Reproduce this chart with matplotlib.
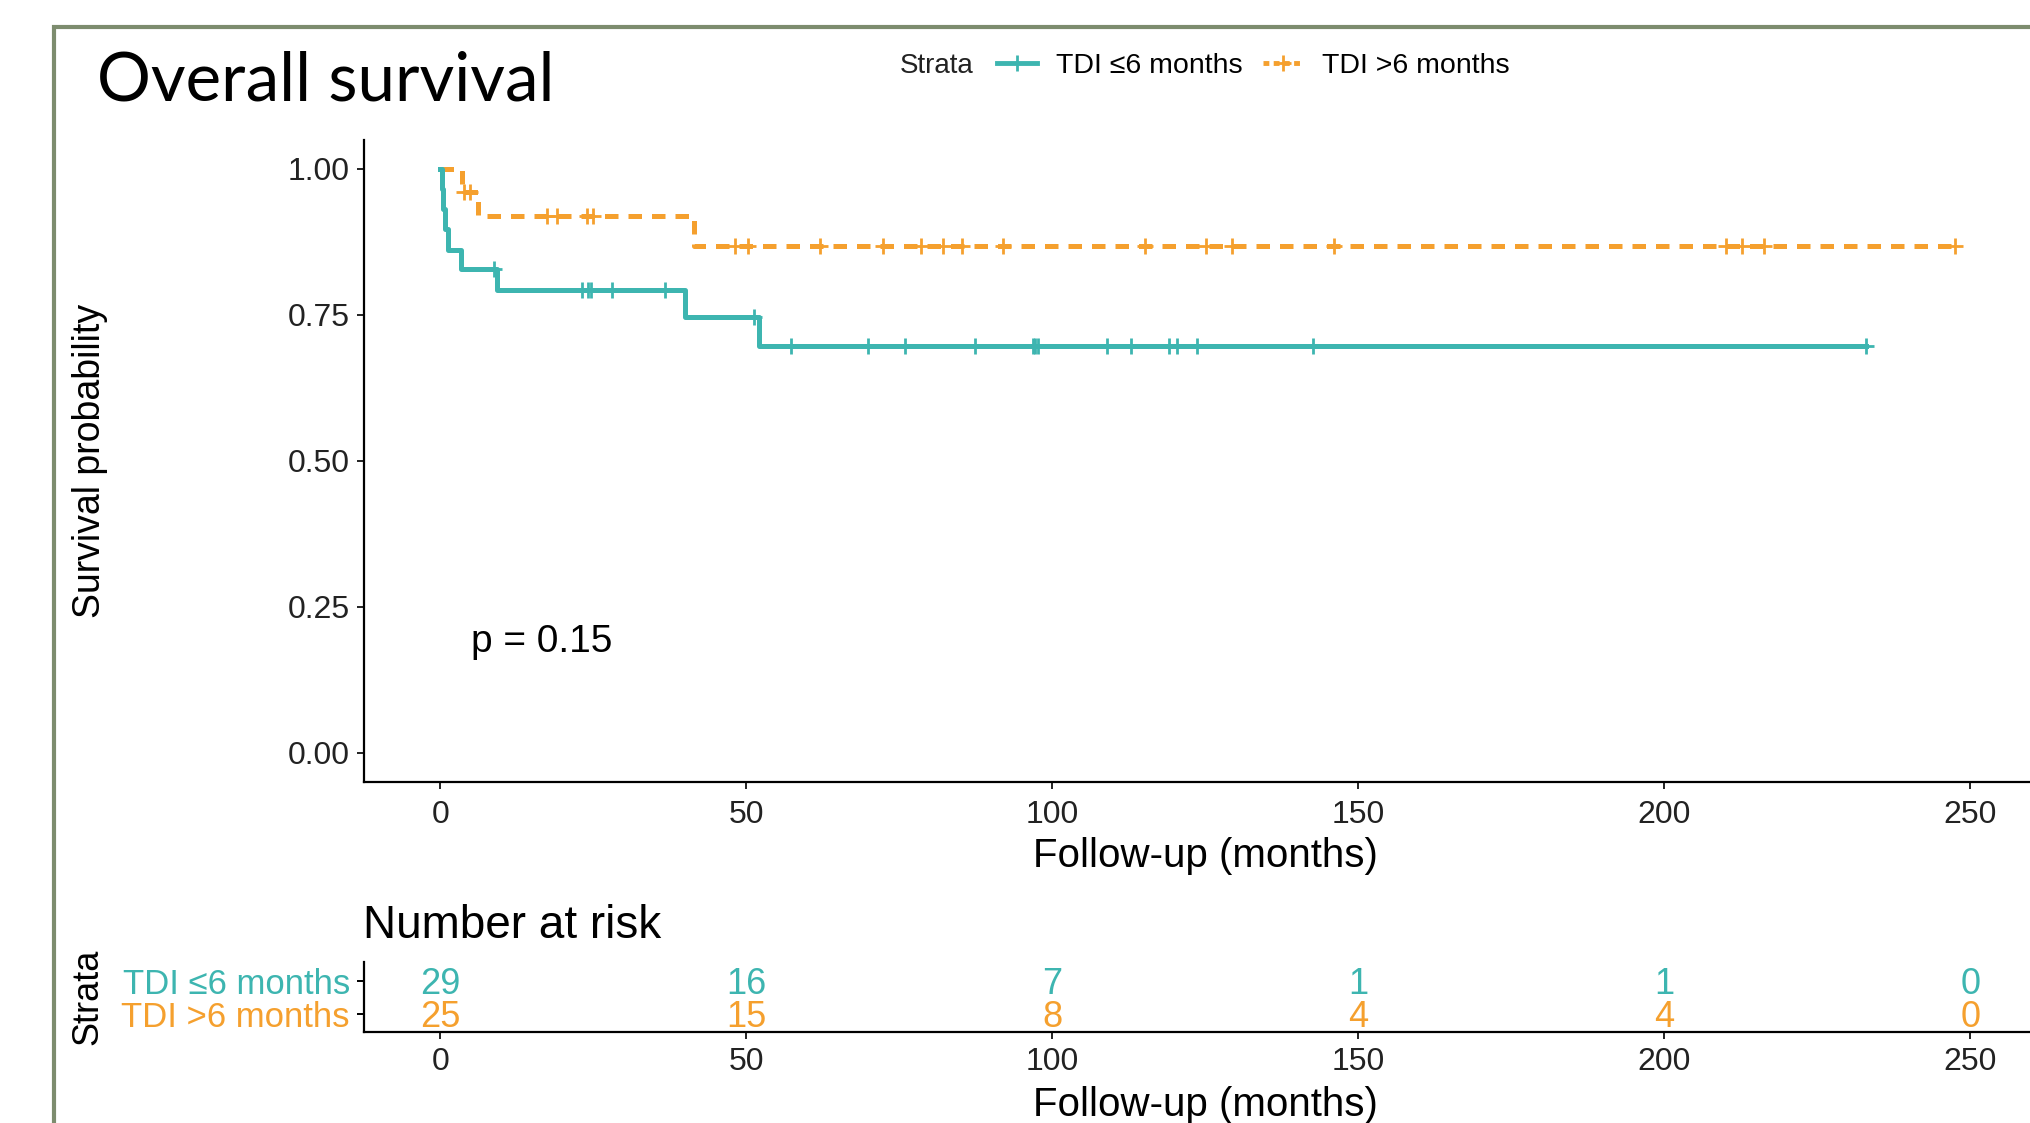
import matplotlib
matplotlib.use('Agg')
import matplotlib.pyplot as plt
from matplotlib.lines import Line2D
from matplotlib.patches import Rectangle
import numpy as np

plt.rcParams['font.family'] = ['Liberation Sans', 'DejaVu Sans']

# Kaplan-Meier steps (time in months, survival)
low_times = [0, 0.3, 0.5, 0.8, 1.3, 3.4, 9.2, 40.0, 52.0]
low_surv = [1.0, 0.966, 0.931, 0.897, 0.862, 0.828, 0.793, 0.746, 0.696]
low_end = 233.0
low_censor = [8.7, 23.1, 24.2, 24.6, 28.0, 36.7, 51.2, 57.3, 69.9, 76.0, 87.4,
              96.8, 97.2, 97.6, 109.0, 112.9, 119.0, 120.4, 123.7, 142.6, 233.0]

high_times = [0, 3.6, 6.2, 41.4]
high_surv = [1.0, 0.96, 0.92, 0.868]
high_end = 247.4
high_censor = [3.9, 4.9, 17.4, 19.0, 23.9, 25.0, 48.2, 50.2, 62.0, 72.3, 78.5,
               82.1, 85.3, 92.0, 115.1, 125.1, 129.3, 146.0, 210.0, 212.6,
               216.3, 247.4]

risk_times = [0, 50, 100, 150, 200, 250]
risk_low = [29, 16, 7, 1, 1, 0]
risk_high = [25, 15, 8, 4, 4, 0]

labels = ['TDI \u22646 months', 'TDI >6 months']
teal = '#3DB5B0'
orange = '#F5A02E'
ink = '#222222'

W, H = 2030, 1123
fig = plt.figure(figsize=(W / 100, H / 100), dpi=100)


def box(left, top, right, bottom):
    return [left / W, 1 - bottom / H, (right - left) / W, (bottom - top) / H]


def step_level(times, surv, t):
    i = np.searchsorted(times, t, side='right') - 1
    return np.array(surv)[i]


# main survival plot
ax = fig.add_axes(box(363.8, 139.8, 2047, 782))
for times, surv, end, cens, col, ls in [
        (high_times, high_surv, high_end, high_censor, orange, (0, (2.7, 2.0))),
        (low_times, low_surv, low_end, low_censor, teal, '-')]:
    ax.step(times + [end], surv + [surv[-1]], where='post', color=col,
            lw=3.6, linestyle=ls)
    ax.plot(cens, step_level(times, surv, cens), linestyle='none', marker='+',
            ms=12, mew=2, color=col)

ax.set_xlim(-12.5, 262.5)
ax.set_ylim(-0.05, 1.05)
ax.set_xticks(risk_times)
ax.set_yticks([0, 0.25, 0.5, 0.75, 1.0])
ax.set_yticklabels(['0.00', '0.25', '0.50', '0.75', '1.00'])
ax.spines[['top', 'right']].set_visible(False)
for s in ['left', 'bottom']:
    ax.spines[s].set_linewidth(1.6)
ax.tick_params(labelsize=23, length=5, width=1.4, pad=5, colors=ink)
ax.tick_params(axis='x', pad=8)
ax.set_xlabel('Follow-up (months)', fontsize=29, va='center')
ax.xaxis.set_label_coords(0.5, -0.115)
ax.text(5, 0.19, 'p = 0.15', fontsize=28, ha='left', va='center')

fig.text(90 / W, 1 - 461 / H, 'Survival probability', rotation=90,
         fontsize=27, ha='center', va='center')

# risk table
rt = fig.add_axes(box(363.8, 962, 2047, 1032))
for row, counts, col in [(2, risk_low, teal), (1, risk_high, orange)]:
    for t, n in zip(risk_times, counts):
        rt.text(t, row, str(n), color=col, fontsize=26, ha='center',
                va='center_baseline')
rt.set_xlim(-12.5, 262.5)
rt.set_ylim(0.455, 2.574)
rt.set_xticks(risk_times)
rt.set_yticks([2, 1])
rt.set_yticklabels(labels, fontsize=25)
for lab, col in zip(rt.get_yticklabels(), [teal, orange]):
    lab.set_color(col)
rt.spines[['top', 'right']].set_visible(False)
for s in ['left', 'bottom']:
    rt.spines[s].set_linewidth(1.6)
rt.tick_params(axis='x', labelsize=23, length=5, width=1.4, pad=6, colors=ink)
rt.tick_params(axis='y', length=5, width=1.4, pad=5)
rt.set_xlabel('Follow-up (months)', fontsize=29, va='center')
rt.xaxis.set_label_coords(0.5, -1.04)

fig.text(363 / W, 1 - 926 / H, 'Number at risk', fontsize=33, va='center')
fig.text(88 / W, 1 - 997 / H, 'Strata', rotation=90, fontsize=26,
         ha='center', va='center')

# legend
fig.text(900 / W, 1 - 66 / H, 'Strata', fontsize=20, va='center', color=ink)
handles = [Line2D([], [], color=teal, lw=3.5, marker='+', ms=12, mew=2),
           Line2D([], [], color=orange, lw=3.5, linestyle=(0, (1.2, 0.9)),
                  marker='+', ms=12, mew=2)]
fig.legend(handles, labels, loc='center left', bbox_to_anchor=(997 / W, 1 - 66 / H),
           ncol=2, frameon=False, fontsize=20.5, handlelength=1.4,
           handletextpad=0.68, columnspacing=0.7, borderpad=0, borderaxespad=0)

# title and frame
fig.text(97 / W, 1 - 101 / H, 'Overall survival', fontsize=48.5, family='Lato',
         va='baseline')
fig.add_artist(Rectangle((54 / W, -0.2), 2, 1.2 - 27 / H, transform=fig.transFigure,
                         fill=False, edgecolor='#7D8C6E', lw=3))

fig.savefig('out.png', dpi=100)
